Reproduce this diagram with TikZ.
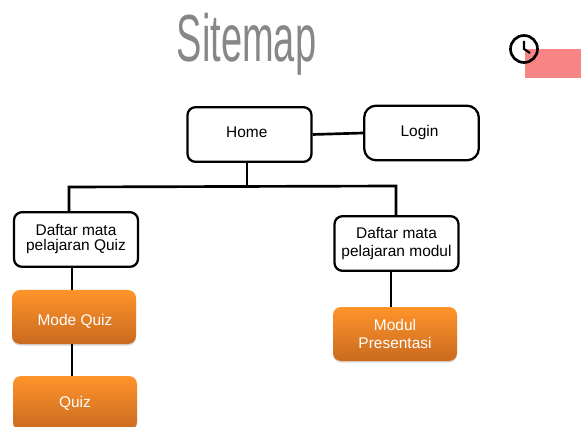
\documentclass[tikz,border=0pt]{standalone}
\usepackage{fontspec}
\usepackage{xcolor}
\setmainfont{Liberation Sans}
\usetikzlibrary{shadows}
\definecolor{boxtop}{HTML}{FF942B}
\definecolor{boxbot}{HTML}{C96A1F}
\definecolor{pinkbar}{HTML}{F88585}
\tikzset{page box/.style = {draw=black,line width=1.7pt,fill=white,rounded corners=6pt,
  minimum width=93pt,minimum height=41pt,inner sep=0pt,align=center,
  font=\fontsize{11.6}{13.5}\selectfont}}
\tikzset{leaf box/.style = {rounded corners=6pt,top color=boxtop,bottom color=boxbot,
  text=white,minimum width=93pt,minimum height=40.5pt,inner sep=0pt,align=center,
  font=\fontsize{11.6}{13.5}\selectfont,
  drop shadow={shadow xshift=0pt,shadow yshift=-1.2pt,opacity=0.3}}}
\tikzset{link/.style = {line width=2pt}}

\begin{document}
\begin{tikzpicture}[x=0.75pt,y=-0.75pt]
  \clip (0,0) rectangle (581,427);
  \fill[pinkbar] (525,49) rectangle (581,78);
  \draw[line width=2pt] (524,49) circle (13.5);
  \draw[line width=1.6pt] (524,41) -- (524,49) -- (530,53);
  \node[text=black!47,xscale=0.57,font=\fontsize{50}{50}\selectfont] (title) at (246.5,44) {Sitemap};

  \node[page box] (home) at (249.5,134.5) {\raisebox{-2.1pt}[0pt][0pt]{Home\hspace{4pt}}};
  \node[page box,minimum width=86pt,rounded corners=9pt] (login) at (421.5,133) {\raisebox{2pt}{Login\hspace{3pt}}};
  \node[page box] (quizlist) at (76,239.5) {\raisebox{0.8pt}{\begin{tabular}{@{}c@{}}Daftar mata\\[-2pt]pelajaran Quiz\end{tabular}}};
  \node[page box] (modullist) at (396.5,243.5) {Daftar mata\\pelajaran modul};
  \node[leaf box] (modequiz) at (74,317) {\raisebox{-6.4pt}[0pt][0pt]{\hspace{1.5pt}Mode Quiz}};
  \node[leaf box] (quiz) at (75,403) {Quiz};
  \node[leaf box] (modul) at (395,334) {Modul\\Presentasi};

  \coordinate (busl) at (69,187);
  \coordinate (busm) at (247,186);
  \coordinate (busr) at (396,186);
  \coordinate (quizdrop) at (72,0);
  \coordinate (moduldrop) at (391,0);
  \draw[link] (home.east) -- (login.west);
  \draw[link] (home.south -| busm) -- (busm);
  \draw[link] (quizlist.north -| busl) -- (busl) -- (busr) -- (modullist.north -| busr);
  \draw[link] (quizlist.south -| quizdrop) -- (modequiz.north -| quizdrop);
  \draw[link] (modequiz.south -| quizdrop) -- (quiz.north -| quizdrop);
  \draw[link] (modullist.south -| moduldrop) -- (modul.north -| moduldrop);
\end{tikzpicture}
\end{document}
